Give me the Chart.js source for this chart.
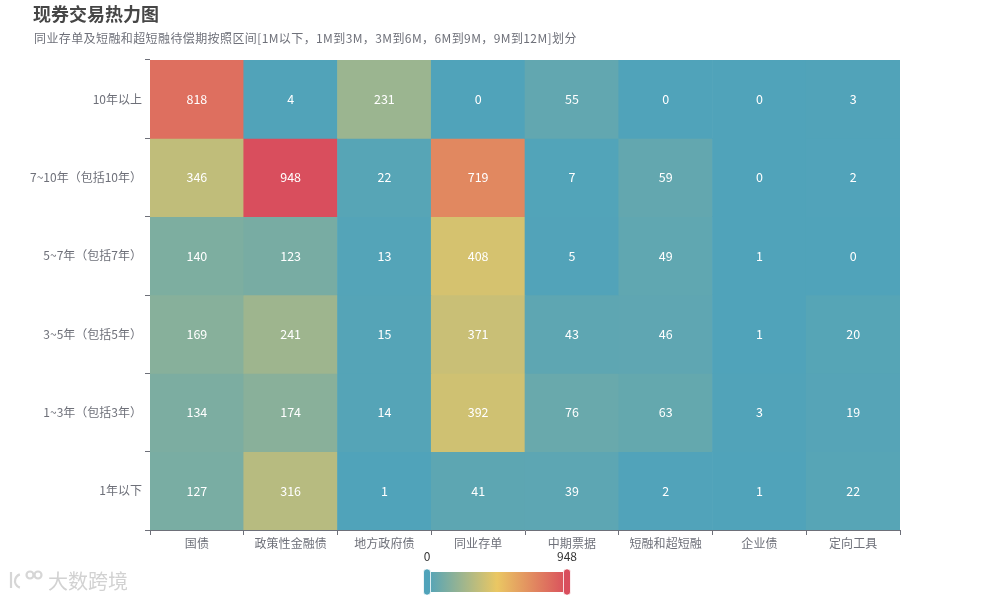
<!DOCTYPE html>
<html>
<head>
<meta charset="utf-8">
<script src="https://cdn.jsdelivr.net/npm/chart.js@4.4.1/dist/chart.umd.min.js"></script>
<style>
  html, body { margin: 0; padding: 0; background: #fff; }
  #wrap { width: 1000px; height: 600px; position: relative; }
</style>
</head>
<body>
<div id="wrap"><canvas id="c" width="1000" height="600"></canvas></div>
<script>
// ---- data ----
const titleText = '现券交易热力图';
const subtitleText = '同业存单及短融和超短融待偿期按照区间[1M以下，1M到3M，3M到6M，6M到9M，9M到12M]划分';
const xCategories = ['国债', '政策性金融债', '地方政府债', '同业存单', '中期票据', '短融和超短融', '企业债', '定向工具'];
const yCategories = ['10年以上', '7~10年（包括10年）', '5~7年（包括7年）', '3~5年（包括5年）', '1~3年（包括3年）', '1年以下'];
const row10Plus = [818, 4, 231, 0, 55, 0, 0, 3];
const row7to10 = [346, 948, 22, 719, 7, 59, 0, 2];
const row5to7 = [140, 123, 13, 408, 5, 49, 1, 0];
const row3to5 = [169, 241, 15, 371, 43, 46, 1, 20];
const row1to3 = [134, 174, 14, 392, 76, 63, 3, 19];
const rowUnder1 = [127, 316, 1, 41, 39, 2, 1, 22];
const heatValues = [row10Plus, row7to10, row5to7, row3to5, row1to3, rowUnder1];
const visualMin = 0;
const visualMax = 948;
const colorStops = ['#50a3ba', '#eac763', '#d94e5d'];

// ---- helpers ----
const FONT = "'Noto Sans CJK SC', 'Noto Sans', sans-serif";
function hexToRgb(h) {
  const n = parseInt(h.slice(1), 16);
  return [(n >> 16) & 255, (n >> 8) & 255, n & 255];
}
const stopRgb = colorStops.map(hexToRgb);
function colorFor(v) {
  let t = (v - visualMin) / (visualMax - visualMin);
  t = Math.max(0, Math.min(1, t));
  const seg = t * (stopRgb.length - 1);
  const i = Math.min(Math.floor(seg), stopRgb.length - 2);
  const f = seg - i;
  const a = stopRgb[i], b = stopRgb[i + 1];
  const c = a.map((x, k) => Math.round(x + (b[k] - x) * f));
  return `rgb(${c[0]},${c[1]},${c[2]})`;
}

const cellLabels = {
  id: 'cellLabels',
  afterDatasetsDraw(chart) {
    const ctx = chart.ctx;
    ctx.save();
    ctx.font = `12.5px ${FONT}`;
    ctx.fillStyle = '#ffffff';
    ctx.textAlign = 'center';
    ctx.textBaseline = 'middle';
    chart.data.datasets.forEach((ds, r) => {
      const meta = chart.getDatasetMeta(r);
      meta.data.forEach((el, i) => {
        const y = (el.y + el.base) / 2;
        ctx.fillText(String(heatValues[r][i]), el.x, y);
      });
    });
    ctx.restore();
  }
};

function roundRect(ctx, x, y, w, h, r) {
  ctx.beginPath();
  ctx.moveTo(x + r, y);
  ctx.lineTo(x + w - r, y);
  ctx.quadraticCurveTo(x + w, y, x + w, y + r);
  ctx.lineTo(x + w, y + h - r);
  ctx.quadraticCurveTo(x + w, y + h, x + w - r, y + h);
  ctx.lineTo(x + r, y + h);
  ctx.quadraticCurveTo(x, y + h, x, y + h - r);
  ctx.lineTo(x, y + r);
  ctx.quadraticCurveTo(x, y, x + r, y);
  ctx.closePath();
}

const decorations = {
  id: 'decorations',
  afterDraw(chart) {
    const ctx = chart.ctx;
    ctx.save();
    // title
    ctx.textAlign = 'left';
    ctx.textBaseline = 'middle';
    ctx.fillStyle = '#464646';
    ctx.font = `bold 18px ${FONT}`;
    ctx.fillText(titleText, 33, 14);
    ctx.fillStyle = '#6E7079';
    ctx.font = `12px ${FONT}`;
    if ('letterSpacing' in ctx) ctx.letterSpacing = '0.4px';
    ctx.fillText(subtitleText, 34, 38);
    if ('letterSpacing' in ctx) ctx.letterSpacing = '0px';

    // visual map
    const x0 = 427, x1 = 567, y0 = 572, h = 20;
    const g = ctx.createLinearGradient(x0, 0, x1, 0);
    colorStops.forEach((c, i) => g.addColorStop(i / (colorStops.length - 1), c));
    ctx.fillStyle = g;
    ctx.fillRect(x0, y0, x1 - x0, h);
    [[x0, colorStops[0]], [x1, colorStops[colorStops.length - 1]]].forEach(([hx, col]) => {
      roundRect(ctx, hx - 3.5, y0 - 3, 7, h + 6, 3);
      ctx.fillStyle = col;
      ctx.fill();
      ctx.strokeStyle = 'rgba(255,255,255,0.8)';
      ctx.lineWidth = 1;
      ctx.stroke();
    });
    ctx.fillStyle = '#333';
    ctx.font = `12px ${FONT}`;
    ctx.textAlign = 'center';
    ctx.fillText(String(visualMin), x0, 556);
    ctx.fillText(String(visualMax), x1, 556);

    // watermark
    ctx.strokeStyle = '#d6d6d6';
    ctx.lineWidth = 2.2;
    ctx.beginPath();
    ctx.moveTo(11, 572); ctx.lineTo(11, 588);
    ctx.stroke();
    ctx.beginPath();
    ctx.arc(22, 581, 7, Math.PI * 0.6, Math.PI * 1.4);
    ctx.stroke();
    ctx.beginPath(); ctx.arc(30, 575, 3.5, 0, Math.PI * 2); ctx.stroke();
    ctx.beginPath(); ctx.arc(38, 575, 3.5, 0, Math.PI * 2); ctx.stroke();
    ctx.fillStyle = '#d2d2d2';
    ctx.font = `20px ${FONT}`;
    ctx.textAlign = 'left';
    ctx.fillText('大数跨境', 48, 581);
    ctx.restore();
  }
};

const datasets = yCategories.map((name, r) => ({
  label: name,
  data: xCategories.map(() => [r, r + 1]),
  backgroundColor: (c) => colorFor(heatValues[r][c.dataIndex]),
  borderWidth: 0,
  barPercentage: 1,
  categoryPercentage: 1,
  grouped: false,
  yAxisID: 'y'
}));

new Chart(document.getElementById('c'), {
  type: 'bar',
  data: { labels: xCategories, datasets },
  plugins: [cellLabels, decorations],
  options: {
    responsive: false,
    animation: false,
    devicePixelRatio: 1,
    layout: { padding: { top: 60, right: 100, left: 0, bottom: 0 } },
    plugins: {
      legend: { display: false },
      tooltip: { enabled: false },
      title: { display: false }
    },
    scales: {
      x: {
        type: 'category',
        offset: true,
        grid: { offset: true, drawOnChartArea: false, tickLength: 5, color: '#6E7079' },
        border: { display: true, color: '#6E7079' },
        ticks: { color: '#6E7079', font: { size: 12, family: FONT }, padding: 1, maxRotation: 0, autoSkip: false },
        afterFit: (s) => { s.height = 70; }
      },
      y: {
        type: 'linear',
        min: 0,
        max: yCategories.length,
        reverse: true,
        display: false
      },
      yCat: {
        type: 'category',
        labels: yCategories,
        position: 'left',
        offset: true,
        grid: { offset: true, drawOnChartArea: false, tickLength: 5, color: '#6E7079' },
        border: { display: true, color: '#6E7079' },
        ticks: { color: '#6E7079', font: { size: 12, family: FONT }, padding: 3, autoSkip: false },
        afterFit: (s) => { s.width = 150; }
      }
    }
  }
});
</script>
</body>
</html>
